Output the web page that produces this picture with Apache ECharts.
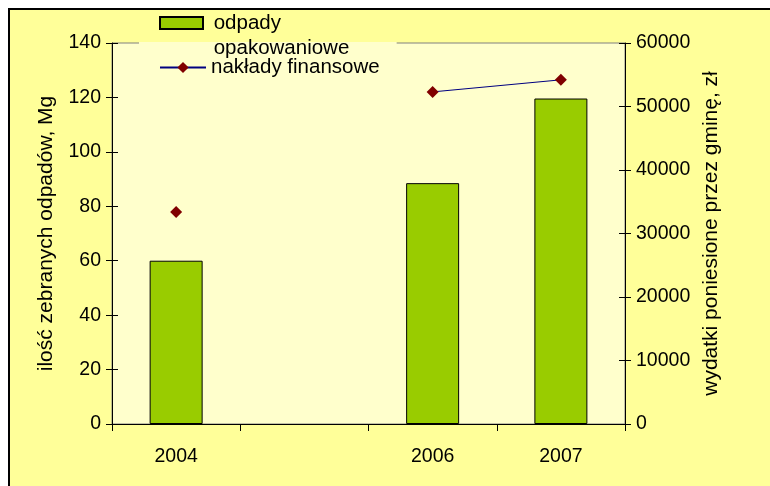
<!DOCTYPE html>
<html>
<head>
<meta charset="utf-8">
<script src="https://cdn.jsdelivr.net/npm/echarts@6/dist/echarts.min.js"></script>
<style>
html,body{margin:0;padding:0;background:#fff;}
#wrap{position:relative;width:770px;height:486px;overflow:hidden;background:#fff;}
#frame{position:absolute;left:8px;top:8px;width:800px;height:500px;background:#FFFF99;border-top:2px solid #000;border-left:2px solid #000;}
#chart{position:absolute;left:0;top:0;width:770px;height:486px;}
</style>
</head>
<body>
<div id="wrap"><div id="frame"></div><div id="chart"></div></div>
<script>
var categories = ['2004', '', '2006', '2007'];
var wasteMg = [60, null, 88.5, 119.6];
var spendingPLN = [33400, null, 52300, 54200];
var leftTicks = {min: 0, max: 140, interval: 20};
var rightTicks = {min: 0, max: 60000, interval: 10000};
var barName = 'odpady opakowaniowe';
var lineName = 'nakłady finansowe';

var FONT = 'Liberation Sans, Arial, sans-serif';
var FS = 19.5, LFS = 20.5, NFS = 21;
var chart = echarts.init(document.getElementById('chart'));
var tickOut = {show: true, inside: false, length: 6, lineStyle: {color: '#000', width: 1}};
var tickIn = {show: true, inside: true, length: 6, lineStyle: {color: '#000', width: 1}};

chart.setOption({
  backgroundColor: 'transparent',
  animation: false,
  textStyle: {fontFamily: FONT},
  grid: {left: 112, right: 145, top: 43, bottom: 62, show: true,
    backgroundColor: '#FFFFCC', borderColor: '#808080', borderWidth: 1},
  legend: [
    {
      z: 6, left: 139, top: -14.5, orient: 'vertical',
      padding: [0, 0, 0, 20],
      itemWidth: 43, itemHeight: 12,
      backgroundColor: 'transparent',
      textStyle: {fontFamily: FONT, fontSize: LFS, color: '#000',
        rich: {e: {fontSize: LFS, lineHeight: 25, height: 25}, t: {fontSize: LFS, lineHeight: 25, fontFamily: FONT, color: '#000'}}},
      formatter: function () { return '{e| }\n{t| odpady}\n{t| opakowaniowe}'; },
      itemGap: 8,
      data: [{name: barName, icon: 'rect'}]
    },
    {
      z: 4, left: 139, top: 42, orient: 'vertical',
      padding: [15, 17, 8, 20],
      itemWidth: 46, itemHeight: 14,
      backgroundColor: '#FFFFCC',
      textStyle: {fontFamily: FONT, fontSize: LFS, color: '#000'},
      data: [{name: lineName}]
    }
  ],
  xAxis: {
    type: 'category', data: categories, boundaryGap: true,
    axisLine: {lineStyle: {color: '#000', width: 1}},
    axisTick: {show: true, length: 7, lineStyle: {color: '#000'}},
    axisLabel: {color: '#000', fontSize: FS, margin: 23, fontFamily: FONT}
  },
  yAxis: [
    {type: 'value', position: 'left', min: leftTicks.min, max: leftTicks.max, interval: leftTicks.interval,
      name: 'ilość zebranych odpadów, Mg', nameLocation: 'middle', nameGap: 55, nameRotate: 90,
      nameTextStyle: {color: '#000', fontSize: NFS, fontFamily: FONT},
      axisLine: {show: true, lineStyle: {color: '#000', width: 1}},
      axisTick: tickOut, splitLine: {show: false},
      axisLabel: {color: '#000', fontSize: FS, margin: 11, fontFamily: FONT}},
    {type: 'value', position: 'right', min: rightTicks.min, max: rightTicks.max, interval: rightTicks.interval,
      name: 'wydatki poniesione przez gminę, zł', nameLocation: 'middle', nameGap: 75, nameRotate: 90,
      nameTextStyle: {color: '#000', fontSize: NFS, fontFamily: FONT},
      axisLine: {show: true, lineStyle: {color: '#000', width: 1}},
      axisTick: tickOut, splitLine: {show: false},
      axisLabel: {color: '#000', fontSize: FS, margin: 11, fontFamily: FONT,
        formatter: function (v) { return String(v); }}},
    {type: 'value', position: 'left', min: leftTicks.min, max: leftTicks.max, interval: leftTicks.interval,
      axisLine: {show: false}, axisTick: tickIn, axisLabel: {show: false}, splitLine: {show: false}},
    {type: 'value', position: 'right', min: rightTicks.min, max: rightTicks.max, interval: rightTicks.interval,
      axisLine: {show: false}, axisTick: tickIn, axisLabel: {show: false}, splitLine: {show: false}}
  ],
  series: [
    {name: barName, type: 'bar', yAxisIndex: 0, data: wasteMg, barWidth: 53,
      itemStyle: {color: '#99CC00', borderColor: '#000', borderWidth: 1}},
    {name: lineName, type: 'line', yAxisIndex: 1, data: spendingPLN, connectNulls: false,
      symbol: 'diamond', symbolSize: 12, showSymbol: true,
      lineStyle: {color: '#000080', width: 1},
      itemStyle: {color: '#800000'}}
  ]
});
</script>
</body>
</html>
